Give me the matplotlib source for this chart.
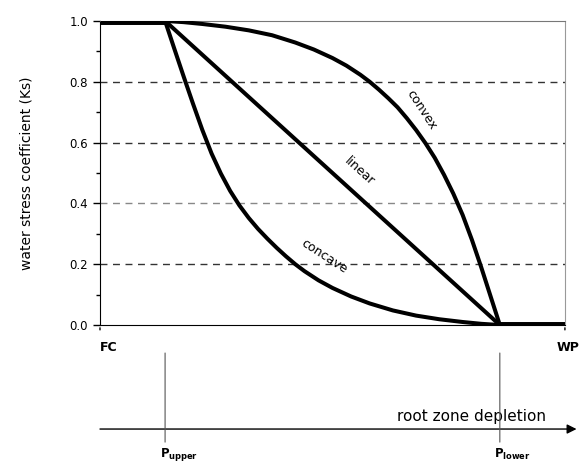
import numpy as np
import matplotlib
matplotlib.use('Agg')
import matplotlib.pyplot as plt

# relative root zone depletion (0 = FC, 1 = WP)
p_upper = 0.14
p_lower = 0.86

# curves
convex_x = [0.14, 0.18, 0.22, 0.27, 0.32, 0.37, 0.42, 0.46, 0.50, 0.53, 0.56, 0.58, 0.60,
            0.62, 0.64, 0.66, 0.68, 0.70, 0.72, 0.74, 0.76, 0.78, 0.80, 0.82, 0.84, 0.86]
convex_y = [1.000, 0.996, 0.990, 0.981, 0.969, 0.953, 0.929, 0.906, 0.878, 0.853, 0.823,
            0.800, 0.774, 0.746, 0.716, 0.680, 0.641, 0.598, 0.550, 0.494, 0.432, 0.362,
            0.280, 0.190, 0.095, 0.000]
linear_x = [0.140, 0.860]
linear_y = [1.0, 0.0]
concave_x = [0.14, 0.16, 0.18, 0.20, 0.22, 0.24, 0.26, 0.28, 0.30, 0.32, 0.34, 0.36, 0.38,
             0.40, 0.42, 0.44, 0.47, 0.50, 0.54, 0.58, 0.63, 0.68, 0.73, 0.78, 0.82, 0.86]
concave_y = [1.000, 0.908, 0.817, 0.728, 0.642, 0.564, 0.498, 0.441, 0.393, 0.352, 0.316,
             0.284, 0.254, 0.226, 0.200, 0.177, 0.147, 0.122, 0.094, 0.071, 0.048, 0.031,
             0.019, 0.010, 0.004, 0.000]
flat_x = [[0.0, 0.140], [0.860, 1.0]]
flat_y = [[1.0, 1.0], [0.0, 0.0]]

yticks = [0.0, 0.2, 0.4, 0.6, 0.8, 1.0]

plt.rcParams['font.family'] = ['DejaVu Sans']
fig = plt.figure(figsize=(5.8, 4.65), dpi=100)
ax = fig.add_axes([0.1724, 0.301, 0.8016, 0.654])

for gy in [0.2, 0.4, 0.6, 0.8]:
    c = '#888888' if gy == 0.4 else '#333333'
    ax.axhline(gy, color=c, lw=1, ls=(0, (5, 4)), zorder=1)

for fx, fy in zip(flat_x, flat_y):
    ax.plot(fx, fy, color='black', lw=5, solid_capstyle='butt', zorder=3)
ax.plot(convex_x, convex_y, color='black', lw=2.9, zorder=3, solid_joinstyle='round')
ax.plot(linear_x, linear_y, color='black', lw=2.9, zorder=3)
ax.plot(concave_x, concave_y, color='black', lw=2.9, zorder=3, solid_joinstyle='round')

ax.text(0.692, 0.708, 'convex', rotation=-57, fontsize=9, ha='center', va='center')
ax.text(0.557, 0.505, 'linear', rotation=-42, fontsize=9, ha='center', va='center')
ax.text(0.482, 0.226, 'concave', rotation=-33, fontsize=9, ha='center', va='center')

ax.set_xlim(0, 1)
ax.set_ylim(0, 1)
ax.set_yticks(yticks)
ax.set_yticklabels(['%.1f' % v for v in yticks], fontsize=8.5)
ax.set_yticks(np.arange(0.1, 1.0, 0.2), minor=True)
ax.tick_params(axis='y', which='major', length=5, width=1, direction='out')
ax.tick_params(axis='y', which='minor', length=3, width=1, direction='out')
ax.set_xticks([])
ax.set_ylabel('water stress coefficient (Ks)', fontsize=10, labelpad=26)

ax.spines['left'].set_color('black')
ax.spines['bottom'].set_color('black')
ax.spines['top'].set_color('#777777')
ax.spines['right'].set_color('#999999')
ax.spines['top'].set_linewidth(0.8)
ax.spines['right'].set_linewidth(0.8)

tr = ('data', 'axes fraction')
ax.annotate('FC', xy=(0.0, -0.075), xycoords=tr, ha='left', va='center',
            fontsize=9, fontweight='bold', annotation_clip=False)
fig.text(0.999, 0.252, 'WP', ha='right', va='center', fontsize=9, fontweight='bold')
# FC / WP ticks
for xv in [0.0, 1.0]:
    ax.annotate('', xy=(xv, -0.025), xytext=(xv, 0.0), xycoords=tr,
                arrowprops=dict(arrowstyle='-', lw=1, color='black'),
                annotation_clip=False)

# depletion axis below the chart
ax.annotate('', xy=(1.025, -0.342), xytext=(0.0, -0.342), xycoords=tr,
            arrowprops=dict(arrowstyle='-|>', lw=1, color='black',
                            mutation_scale=14, shrinkA=0, shrinkB=0),
            annotation_clip=False)
ax.annotate('root zone depletion', xy=(0.96, -0.30), xycoords=tr, ha='right',
            va='center', fontsize=11, annotation_clip=False)
for xv in [p_upper, p_lower]:
    ax.annotate('', xy=(xv, -0.385), xytext=(xv, -0.092), xycoords=tr,
                arrowprops=dict(arrowstyle='-', lw=0.8, color='#555555',
                                shrinkA=0, shrinkB=0),
                annotation_clip=False)
ax.annotate(r'P$_{\mathbf{upper}}$', xy=(p_upper - 0.012, -0.425), xycoords=tr,
            ha='left', va='center', fontsize=8.5, fontweight='bold',
            annotation_clip=False)
ax.annotate(r'P$_{\mathbf{lower}}$', xy=(p_lower - 0.012, -0.425), xycoords=tr,
            ha='left', va='center', fontsize=8.5, fontweight='bold',
            annotation_clip=False)

fig.savefig('out.png', dpi=100)
